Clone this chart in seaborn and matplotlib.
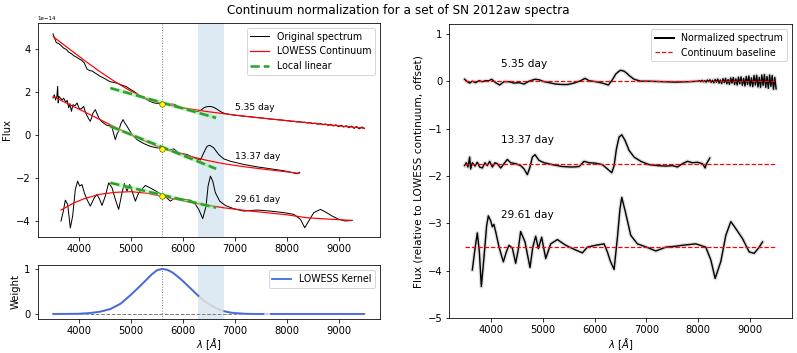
import numpy as np
import matplotlib
matplotlib.use("Agg")
import matplotlib.pyplot as plt
import seaborn as sns

plt.rcParams['font.family'] = ['DejaVu Sans']
plt.rcParams['font.size'] = 10
plt.rcParams['legend.fontsize'] = 9.5

# ================== data (flux in units of 1e-14) ==================
flux_unit = 1e-14
epochs = ["5.35 day", "13.37 day", "29.61 day"]
offsets = [0.0, -1.75, -3.5]
ref_wave = 5600
mask_band = (6300, 6800)

# LOWESS continuum (left panel)
cont_wave_535 = [3500, 3800, 4100, 4400, 4700, 5000, 5300, 5600, 5900, 6200, 6500, 6800,
                 7200, 7600, 8000, 8500, 9000, 9500]
cont_flux_535 = [4.55, 4.00, 3.45, 2.93, 2.45, 2.02, 1.68, 1.45, 1.30, 1.18, 1.07, 0.98,
                 0.86, 0.76, 0.66, 0.54, 0.42, 0.31]
cont_wave_1337 = [3500, 3800, 4100, 4400, 4700, 5000, 5300, 5600, 5900, 6200, 6500, 6800,
                  7200, 7600, 8000, 8240]
cont_flux_1337 = [1.78, 1.42, 1.07, 0.71, 0.35, 0.0, -0.32, -0.62, -0.84, -1.03, -1.20, -1.34,
                  -1.48, -1.60, -1.71, -1.78]
cont_wave_2961 = [3650, 3900, 4100, 4400, 4700, 5000, 5300, 5600, 5900, 6200, 6500, 6800,
                  7200, 7600, 8000, 8400, 8800, 9260]
cont_flux_2961 = [-3.48, -3.15, -2.95, -2.75, -2.66, -2.63, -2.70, -2.85, -3.00, -3.15, -3.27, -3.38,
                  -3.50, -3.60, -3.70, -3.84, -3.90, -3.96]

# original spectra (left panel)
orig_wave_535 = [3495, 3520, 3545, 3560, 3600, 3650, 3700, 3750, 3800, 3850, 3900, 3950, 4000,
                 4050, 4100, 4150, 4200, 4250, 4300, 4350, 4400, 4450, 4500, 4550, 4600, 4650,
                 4700, 4750, 4800, 4850, 4900, 4950, 5000, 5050, 5100, 5150, 5200, 5250, 5300,
                 5350, 5400, 5450, 5500, 5550, 5600, 5650, 5700, 5750, 5800, 5850, 5900, 5950,
                 6000, 6050, 6100, 6150, 6200, 6250, 6300, 6350, 6400, 6450, 6500, 6550, 6600,
                 6650, 6700, 6750, 6800, 6850, 6900, 7000, 7100, 7200, 7300, 7400, 7500, 7600,
                 7700, 7800, 7900, 8000, 8050, 8100, 8150, 8200, 8250, 8300, 8350, 8400, 8450,
                 8500, 8550, 8600, 8650, 8700, 8750, 8800, 8850, 8900, 8950, 9000, 9050, 9100,
                 9150, 9200, 9250, 9300, 9350, 9400, 9450, 9500]
orig_flux_535 = [4.68, 4.52, 4.36, 4.27, 4.24, 4.14, 4.02, 3.96, 3.83, 3.76, 3.66, 3.60, 3.52,
                 3.45, 3.33, 3.05, 2.98, 2.96, 2.88, 2.80, 2.72, 2.66, 2.60, 2.52, 2.46, 2.44,
                 2.41, 2.38, 2.33, 2.28, 2.25, 2.17, 2.09, 2.02, 1.94, 1.84, 1.76, 1.70, 1.64,
                 1.57, 1.52, 1.48, 1.46, 1.45, 1.44, 1.43, 1.42, 1.42, 1.43, 1.40, 1.34, 1.29,
                 1.24, 1.22, 1.19, 1.16, 1.11, 1.08, 1.09, 1.15, 1.25, 1.30, 1.32, 1.31, 1.27,
                 1.20, 1.12, 1.05, 1.00, 0.97, 0.95, 0.91, 0.89, 0.86, 0.84, 0.81, 0.79, 0.76,
                 0.73, 0.71, 0.69, 0.66, 0.65, 0.63, 0.63, 0.60, 0.61, 0.58, 0.59, 0.55, 0.57,
                 0.52, 0.55, 0.49, 0.53, 0.47, 0.51, 0.44, 0.49, 0.41, 0.47, 0.38, 0.45, 0.36,
                 0.43, 0.33, 0.41, 0.30, 0.39, 0.28, 0.37, 0.29]
orig_wave_1337 = [3495, 3520, 3545, 3570, 3585, 3595, 3610, 3640, 3670, 3700, 3740, 3770, 3797,
                  3820, 3850, 3880, 3920, 3958, 4000, 4040, 4086, 4120, 4150, 4190, 4215, 4240,
                  4266, 4311, 4340, 4380, 4430, 4472, 4530, 4580, 4633, 4660, 4697, 4730, 4761,
                  4800, 4845, 4880, 4922, 5019, 5115, 5244, 5372, 5501, 5617, 5720, 5822, 5920,
                  6080, 6208, 6337, 6401, 6465, 6517, 6594, 6690, 6787, 6915, 7173, 7430, 7687,
                  7944, 8137, 8200, 8253]
orig_flux_1337 = [1.71, 1.86, 1.62, 1.80, 2.25, 1.48, 1.78, 1.70, 1.62, 1.70, 1.52, 1.60, 1.25,
                  1.45, 1.09, 1.40, 1.35, 1.48, 1.22, 1.20, 1.32, 1.05, 0.89, 0.72, 0.63, 0.80,
                  1.01, 1.17, 1.00, 0.78, 0.62, 0.55, 0.45, 0.42, 0.36, 0.10, -0.22, 0.05, 0.17,
                  0.50, 0.71, 0.55, 0.40, 0.01, -0.22, -0.40, -0.53, -0.60, -0.62, -0.71, -0.65,
                  -0.83, -0.91, -1.06, -1.17, -0.83, -0.53, -0.48, -0.60, -0.91, -1.11, -1.22,
                  -1.37, -1.48, -1.57, -1.66, -1.76, -1.80, -1.73]
orig_wave_2961 = [3649, 3688, 3733, 3778, 3829, 3874, 3925, 3970, 4009, 4054, 4099, 4150, 4215,
                  4292, 4343, 4395, 4440, 4504, 4569, 4633, 4697, 4761, 4826, 4871, 4922, 4973,
                  5019, 5083, 5147, 5276, 5404, 5533, 5662, 5758, 5854, 6015, 6144, 6240, 6305,
                  6382, 6446, 6485, 6530, 6575, 6626, 6710, 6819, 6980, 7173, 7430, 7687, 7944,
                  8137, 8266, 8349, 8426, 8523, 8652, 8748, 8877, 9005, 9134, 9262]
orig_flux_2961 = [-3.99, -3.60, -3.02, -3.22, -4.31, -3.76, -2.53, -2.14, -2.37, -2.30, -2.68,
                  -2.99, -3.30, -2.91, -2.76, -2.99, -3.27, -2.83, -2.22, -2.45, -2.99, -3.45,
                  -2.68, -2.25, -2.60, -2.30, -2.60, -3.07, -2.68, -2.34, -2.50, -2.68, -2.86,
                  -3.07, -2.91, -2.99, -3.02, -3.22, -3.45, -3.88, -3.30, -2.37, -1.91, -2.14,
                  -2.68, -3.07, -3.27, -3.42, -3.53, -3.48, -3.53, -3.60, -3.68, -3.91, -4.30,
                  -3.99, -3.60, -3.45, -3.57, -3.76, -3.91, -3.99, -3.96]

# continuum at the reference wavelength and local linear fits
ref_flux = [1.45, -0.63, -2.85]
linfit_wave = [4600, 6640]
linfit_flux = [[2.17, 0.79], [0.40, -1.57], [-2.22, -3.37]]

# LOWESS kernel weights
kernel_wave = [3500, 4000, 4200, 4400, 4600, 4800, 5000, 5200, 5400, 5500, 5600, 5700, 5800,
               5900, 6000, 6100, 6200, 6300, 6400, 6500, 6600, 6700, 6800, 6900, 7000, 7200,
               7400, 7550, 7700, 9500]
kernel_weight = [0.0, 0.005, 0.02, 0.05, 0.11, 0.23, 0.43, 0.65, 0.88, 0.97, 1.0, 0.98, 0.92,
                 0.83, 0.73, 0.62, 0.51, 0.40, 0.30, 0.22, 0.15, 0.10, 0.06, 0.035, 0.02, 0.005,
                 0.0, 0.0, 0.0, 0.0]
telluric_band = (7550, 7700)

# normalized spectra (right panel, offsets included)
norm_wave_535 = [3496, 3548, 3593, 3644, 3708, 3773, 3837, 3901, 3966, 4017, 4094, 4171, 4255,
                 4351, 4448, 4544, 4641, 4737, 4853, 4930, 5027, 5123, 5252, 5380, 5477, 5605,
                 5734, 5817, 5895, 6023, 6152, 6267, 6344, 6409, 6470, 6505, 6570, 6620, 6666,
                 6763, 6891, 7052, 7309, 7566, 7824, 8000, 8025, 8050, 8075, 8100, 8125, 8150,
                 8175, 8200, 8225, 8250, 8275, 8300, 8325, 8350, 8375, 8400, 8425, 8450, 8475,
                 8500, 8525, 8550, 8575, 8600, 8625, 8650, 8675, 8700, 8725, 8750, 8775, 8800,
                 8825, 8850, 8875, 8900, 8925, 8950, 8975, 9000, 9025, 9050, 9075, 9100, 9125,
                 9150, 9175, 9200, 9225, 9250, 9275, 9300, 9325, 9350, 9375, 9400, 9425, 9450,
                 9475, 9500]
norm_flux_535 = [0.04, -0.01, -0.04, 0.0, -0.03, 0.01, -0.01, 0.01, 0.01, 0.04, -0.03, -0.08,
                 -0.01, -0.01, -0.04, -0.03, -0.06, 0.0, 0.04, 0.03, -0.01, -0.03, -0.06, -0.07,
                 -0.07, -0.04, 0.01, 0.06, 0.01, -0.01, -0.04, -0.08, 0.03, 0.15, 0.21, 0.23,
                 0.21, 0.17, 0.12, 0.04, 0.0, 0.0, -0.01, -0.02, -0.01, 0.0, 0.012, -0.008,
                 0.018, -0.012, 0.01, -0.02, 0.025, -0.01, 0.03, -0.025, 0.02, -0.035, 0.035,
                 -0.02, 0.045, -0.04, 0.025, -0.05, 0.05, -0.03, 0.06, -0.055, 0.035, -0.065,
                 0.07, -0.04, 0.075, -0.07, 0.05, -0.08, 0.085, -0.055, 0.09, -0.085, 0.06,
                 -0.10, 0.10, -0.07, 0.11, -0.10, 0.07, -0.115, 0.12, -0.08, 0.125, -0.12,
                 0.08, -0.13, 0.13, -0.09, 0.14, -0.13, 0.10, -0.15, 0.13, -0.11, 0.12, -0.17,
                 0.08, -0.16]
norm_wave_1337 = [3496, 3528, 3560, 3593, 3612, 3644, 3695, 3741, 3786, 3837, 3888, 3933, 3978,
                  4030, 4081, 4126, 4191, 4255, 4319, 4384, 4480, 4576, 4641, 4705, 4756, 4802,
                  4853, 4930, 5027, 5187, 5380, 5573, 5702, 5798, 5895, 6023, 6152, 6248, 6332,
                  6377, 6422, 6473, 6525, 6589, 6666, 6763, 6891, 7052, 7213, 7374, 7502, 7598,
                  7695, 7792, 7888, 7984, 8081, 8132, 8158, 8197, 8222]
norm_flux_1337 = [-1.78, -1.72, -1.81, -1.60, -1.85, -1.72, -1.79, -1.71, -1.81, -1.83, -1.72,
                  -1.78, -1.69, -1.81, -1.72, -1.74, -1.83, -1.74, -1.65, -1.72, -1.74, -1.78,
                  -1.85, -1.97, -1.81, -1.60, -1.55, -1.67, -1.72, -1.76, -1.80, -1.81, -1.80,
                  -1.69, -1.72, -1.73, -1.76, -1.85, -1.93, -1.78, -1.43, -1.18, -1.13, -1.25,
                  -1.46, -1.60, -1.69, -1.76, -1.78, -1.79, -1.78, -1.81, -1.74, -1.69, -1.72,
                  -1.71, -1.74, -1.83, -1.74, -1.67, -1.62]
norm_wave_2961 = [3644, 3700, 3741, 3780, 3818, 3870, 3920, 3953, 4000, 4030, 4060, 4100, 4158,
                  4242, 4300, 4351, 4416, 4480, 4530, 4576, 4660, 4756, 4810, 4866, 4917, 4981,
                  5059, 5155, 5284, 5445, 5637, 5766, 5862, 6023, 6184, 6248, 6300, 6377, 6441,
                  6490, 6525, 6602, 6698, 6827, 7052, 7181, 7374, 7567, 7695, 7952, 8145, 8242,
                  8325, 8435, 8531, 8627, 8724, 8853, 8981, 9078, 9174, 9238]
norm_flux_2961 = [-3.98, -3.50, -3.20, -3.60, -4.33, -3.70, -3.05, -2.84, -2.95, -3.07, -3.02,
                  -3.20, -3.49, -3.81, -3.60, -3.46, -3.52, -3.84, -3.55, -3.17, -3.39, -3.93,
                  -3.50, -3.27, -3.53, -3.29, -3.74, -3.43, -3.34, -3.46, -3.56, -3.62, -3.50,
                  -3.46, -3.43, -3.60, -3.78, -3.97, -3.30, -2.70, -2.45, -2.79, -3.25, -3.43,
                  -3.52, -3.58, -3.50, -3.48, -3.46, -3.43, -3.50, -3.77, -4.16, -3.80, -3.25,
                  -2.96, -3.11, -3.32, -3.60, -3.63, -3.50, -3.39]

# ================== figure ==================
fig = plt.figure(figsize=(797 / 72, 353 / 72), dpi=72)
ax_spec = fig.add_axes([0.0473, 0.3286, 0.4295, 0.606])
ax_kern = fig.add_axes([0.0473, 0.0977, 0.4295, 0.1507])
ax_norm = fig.add_axes([0.5637, 0.0983, 0.4296, 0.8329])

orig = [(orig_wave_535, orig_flux_535), (orig_wave_1337, orig_flux_1337), (orig_wave_2961, orig_flux_2961)]
conts = [(cont_wave_535, cont_flux_535), (cont_wave_1337, cont_flux_1337), (cont_wave_2961, cont_flux_2961)]
norms = [(norm_wave_535, norm_flux_535), (norm_wave_1337, norm_flux_1337), (norm_wave_2961, norm_flux_2961)]

# ---- left top: original spectra + continuum ----
ax_spec.axvspan(*mask_band, color="tab:blue", alpha=0.15, lw=0)
ax_spec.axvline(ref_wave, color="grey", ls=":", lw=1)
for i in range(3):
    w, f = orig[i]
    sns.lineplot(x=w, y=np.array(f) * flux_unit, ax=ax_spec, color="black", lw=1.0,
                 estimator=None, sort=False, label="Original spectrum" if i == 0 else None)
    w, f = conts[i]
    sns.lineplot(x=w, y=np.array(f) * flux_unit, ax=ax_spec, color="red", lw=1.2,
                 estimator=None, sort=False, label="LOWESS Continuum" if i == 0 else None)
    yl = np.array(linfit_flux[i]) * flux_unit
    ax_spec.plot(linfit_wave, yl, color="lightgreen", lw=4, alpha=0.5, solid_capstyle="butt")
    ax_spec.plot(linfit_wave, yl, color="tab:green", lw=2.5, ls="--",
                 label="Local linear" if i == 0 else None)
    ax_spec.plot(ref_wave, ref_flux[i] * flux_unit, "o", color="yellow", mec="#555500",
                 mew=0.6, ms=5.5, zorder=5)

for lab, yy in zip(epochs, [1.25, -1.0, -3.0]):
    ax_spec.text(7000, yy * flux_unit, lab, fontsize=9, va="center", ha="left")

ax_spec.set_xlim(3200, 9800)
ax_spec.set_ylim(-4.73e-14, 5.18e-14)
ax_spec.set_ylabel("Flux", fontsize=10)
ax_spec.set_xlabel("")
ax_spec.yaxis.get_offset_text().set_fontsize(5.5)
ax_spec.legend(loc="upper right")

# ---- left bottom: kernel ----
kw = np.array(kernel_wave)
kv = np.array(kernel_weight)
ax_kern.axvspan(*mask_band, color="tab:blue", alpha=0.15, lw=0)
ax_kern.axvline(ref_wave, color="grey", ls=":", lw=1)
ax_kern.plot([3500, 9500], [0, 0], color="grey", ls="--", lw=1)
ax_kern.plot(kw, kv, color="lightgrey", lw=2.2)
segs = [kw <= mask_band[0],
        (kw >= mask_band[1]) & (kw <= telluric_band[0]),
        kw >= telluric_band[1]]
for j, sel in enumerate(segs):
    sns.lineplot(x=kw[sel], y=kv[sel], ax=ax_kern, color="royalblue", lw=1.8,
                 estimator=None, sort=False, label="LOWESS Kernel" if j == 0 else None)
ax_kern.set_xlim(3200, 9800)
ax_kern.set_ylim(-0.1, 1.08)
ax_kern.set_yticks([0, 1])
ax_kern.set_ylabel("Weight", fontsize=10)
ax_kern.set_xlabel(r"$\lambda\ [\AA]$", fontsize=10, labelpad=1)
ax_kern.legend(loc="upper right")

# ---- right: normalized spectra ----
for i in range(3):
    w, f = norms[i]
    sns.lineplot(x=w, y=f, ax=ax_norm, color="grey", lw=4, alpha=0.25,
                 estimator=None, sort=False)
    sns.lineplot(x=w, y=f, ax=ax_norm, color="black", lw=1.4, estimator=None, sort=False,
                 label="Normalized spectrum" if i == 0 else None)
    ax_norm.plot([3500, 9500], [offsets[i]] * 2, color="red", ls="--", lw=1.2,
                 label="Continuum baseline" if i == 0 else None)

for lab, yy in zip(epochs, [0.37, -1.23, -2.82]):
    ax_norm.text(4200, yy, lab, fontsize=10.5, va="center", ha="left")

ax_norm.set_xlim(3200, 9800)
ax_norm.set_ylim(-5, 1.2)
ax_norm.set_ylabel("Flux (relative to LOWESS continuum, offset)", fontsize=10.5)
ax_norm.set_xlabel(r"$\lambda\ [\AA]$", fontsize=10, labelpad=1)
leg = ax_norm.legend(loc="upper right")
leg.get_lines()[0].set_linewidth(2)

fig.suptitle("Continuum normalization for a set of SN 2012aw spectra", fontsize=12, y=0.99, va="top")

fig.savefig("out.png", dpi=72)
